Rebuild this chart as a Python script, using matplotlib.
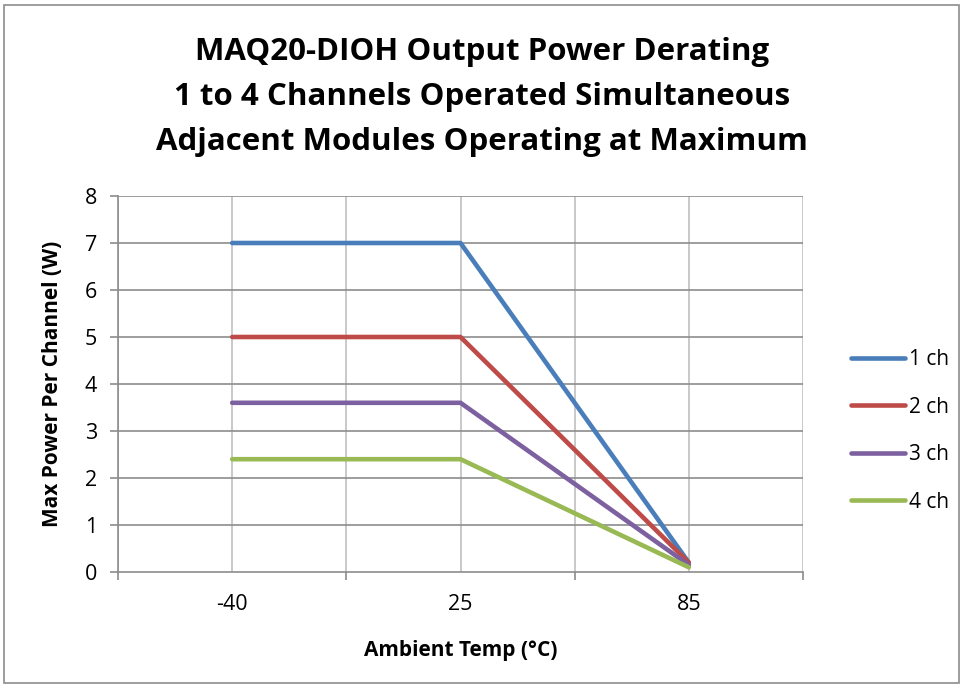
import matplotlib.pyplot as plt
from matplotlib.patches import Rectangle

# dados
temps = ["-40", "25", "85"]
ch1 = [7, 7, 0.2]
ch2 = [5, 5, 0.2]
ch3 = [3.6, 3.6, 0.15]
ch4 = [2.4, 2.4, 0.1]
series_names = ["1 ch", "2 ch", "3 ch", "4 ch"]
series_colors = ["#4A7EBB", "#BE4B48", "#7D60A0", "#98B954"]

plt.rcParams['font.family'] = ['Open Sans', 'DejaVu Sans']

fig = plt.figure(figsize=(9.64, 6.87), dpi=100)
ax = fig.add_axes([118/964, 1-572/687, (803-118)/964, (572-196)/687])

# borda externa
fig.patches.append(Rectangle((4/964, 4/687), 955/964, 678/687, transform=fig.transFigure,
                             fill=False, edgecolor="#8c8c8c", linewidth=1.2))

x = list(range(len(temps)))
for vals, name, col in zip([ch1, ch2, ch3, ch4], series_names, series_colors):
    ax.plot(x, vals, color=col, linewidth=3.3, label=name, solid_capstyle='round', zorder=3)

ax.set_xlim(-0.5, 2.5)
ax.set_ylim(0, 8)
ax.set_yticks(range(0, 9))
ax.set_xticks(x)
ax.set_xticklabels(temps)
ax.set_xticks([-0.5, 0.5, 1.5, 2.5], minor=True)

# grades
for xi in [-0.5, 0, 0.5, 1, 1.5, 2, 2.5]:
    ax.axvline(xi, color="#c0c0c0", linewidth=1.2, zorder=1)
for yi in range(1, 9):
    ax.axhline(yi, color="#8c8c8c", linewidth=1.2, zorder=1)

for s in ["top", "right"]:
    ax.spines[s].set_visible(False)
ax.spines["left"].set_color("#8c8c8c")
ax.spines["bottom"].set_color("#8c8c8c")
ax.spines["left"].set_linewidth(1.2)
ax.spines["bottom"].set_linewidth(1.2)

ax.tick_params(axis='x', which='major', length=0, labelsize=15.5, pad=16)
ax.tick_params(axis='x', which='minor', length=6, color="#8c8c8c", width=1.2)
ax.tick_params(axis='y', length=6, color="#8c8c8c", width=1.2, labelsize=15.5, pad=9)

ax.set_xlabel("Ambient Temp (°C)", fontsize=15, fontweight='bold', labelpad=18)
ax.set_ylabel("Max Power Per Channel (W)", fontsize=15, fontweight='bold', labelpad=16)

fig.text(0.5, 1-52/687, "MAQ20-DIOH Output Power Derating", ha='center', va='center',
         fontsize=22.5, fontweight='bold')
fig.text(0.5, 1-97/687, "1 to 4 Channels Operated Simultaneous", ha='center', va='center',
         fontsize=22.5, fontweight='bold')
fig.text(0.5, 1-142/687, "Adjacent Modules Operating at Maximum", ha='center', va='center',
         fontsize=22.5, fontweight='bold')

fig.legend(loc='center left', bbox_to_anchor=(832/964, 1-431/687), frameon=False,
           fontsize=15, handlelength=2.6, handletextpad=0.2, labelspacing=1.27)

fig.savefig("out.png", dpi=100)
